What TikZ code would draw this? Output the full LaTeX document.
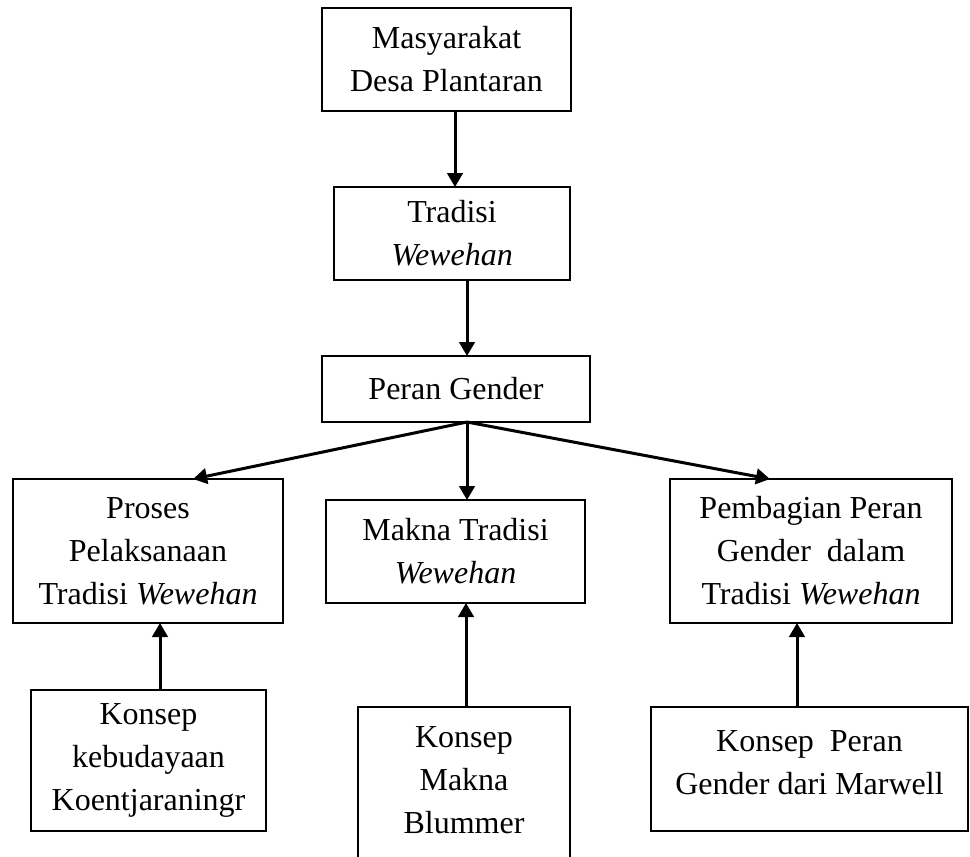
\documentclass[tikz,border=0pt]{standalone}
\usepackage{fontspec}
\setmainfont{Liberation Serif}
\usetikzlibrary{arrows.meta}
\begin{document}
\begin{tikzpicture}[x=0.4pt,y=-0.4pt,
  box/.style={draw, line width=0.8pt, inner sep=0pt, outer sep=0pt, align=center,
    font=\fontsize{12.8pt}{17.2pt}\selectfont},
  txt/.style={inner sep=0pt, align=center, font=\fontsize{12.8pt}{17.2pt}\selectfont},
  arr/.style={line width=1.2pt, -{Triangle[length=5.6pt,width=6.2pt]}}]
\useasboundingbox (0,0) rectangle (970,856);
\node[box, minimum width=99.6pt, minimum height=41.2pt] (b1) at (446.5,59.5) {Masyarakat\\Desa Plantaran};
\node[box, minimum width=94.4pt, minimum height=37.2pt] (b2) at (452,233.5) {Tradisi\\\textit{Wewehan}};
\node[box, minimum width=107.2pt, minimum height=26.4pt] (b3) at (456,389) {Peran Gender};
\node[box, minimum width=108pt, minimum height=57.6pt] (b4) at (148,551) {Proses\\Pelaksanaan\\Tradisi \textit{Wewehan}};
\node[box, minimum width=103.6pt, minimum height=41.2pt] (b5) at (455.5,551.5) {Makna Tradisi\\\textit{Wewehan}};
\node[box, minimum width=112.8pt, minimum height=57.6pt] (b6) at (811,551) {Pembagian Peran\\Gender\ \ dalam\\Tradisi \textit{Wewehan}};
\node[box, minimum width=94pt, minimum height=56.4pt] (b7) at (148.5,760.5) {Konsep\\kebudayaan\\Koentjaraningr};
\node[box, minimum width=84.8pt, minimum height=69.2pt] (b8) at (464,793.5) {};
\node[txt] (t8) at (464,780) {Konsep\\Makna\\Blummer};
\node[box, minimum width=126.8pt, minimum height=49.6pt] (b9) at (809.5,769) {};
\node[txt] (t9) at (809.5,763) {Konsep\ \ Peran\\Gender dari Marwell};
\coordinate (sp) at (b3.south -| 467,0);
\draw[arr] (b1.south -| 455,0) -- (b2.north -| 455,0);
\draw[arr] (b2.south -| 467,0) -- (b3.north -| 467,0);
\draw[arr] (sp) -- (b4.north -| 193,0);
\draw[arr] (sp) -- (b5.north -| 467,0);
\draw[arr] (sp) -- (b6.north -| 770,0);
\draw[arr] (b7.north -| 160,0) -- (b4.south -| 160,0);
\draw[arr] (b8.north -| 466,0) -- (b5.south -| 466,0);
\draw[arr] (b9.north -| 797,0) -- (b6.south -| 797,0);
\end{tikzpicture}
\end{document}
